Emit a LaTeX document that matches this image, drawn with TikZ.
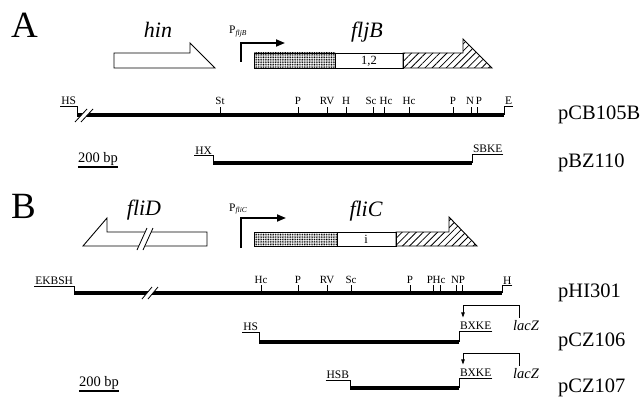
\documentclass[tikz,border=0pt]{standalone}
\usepackage{fontspec}
\setmainfont{Liberation Serif}
\usetikzlibrary{arrows.meta, patterns.meta, positioning}

\begin{document}
\begin{tikzpicture}[x=1pt, y=-1pt,
    dna/.style={line width=3.2pt},
    thinln/.style={line width=0.8pt},
    gene/.style={draw, line width=0.9pt},
    stipple/.style={gene, pattern={Dots[distance=1.7pt, radius=0.62pt]}},
    hatch/.style={gene, pattern={Lines[angle=45, distance=5pt, line width=0.8pt]}},
    site/.style={font=\fontsize{11}{11}\selectfont, inner sep=0pt, anchor=base},
    endlab/.style={font=\fontsize{11.5}{11}\selectfont, inner sep=0.8pt},
    plasmid/.style={font=\fontsize{20.5}{20}\selectfont, anchor=west, inner sep=0pt},
    genelab/.style={font=\fontsize{22}{22}\selectfont\itshape, inner sep=0pt, anchor=base},
    panel/.style={font=\fontsize{37}{37}\selectfont, inner sep=0pt, anchor=base west},
    promlab/.style={font=\fontsize{11.5}{11}\selectfont, inner sep=0pt, anchor=base west},
    prom/.style={line width=1.7pt, -{Triangle[length=9pt, width=7pt]}},
    arr/.style={line width=0.7pt, -{Triangle[length=5pt, width=3.5pt]}},
    scalelab/.style={font=\fontsize{14.5}{14}\selectfont, inner sep=0pt, anchor=base},
    bar/.style={line width=1.9pt}
  ]
  \useasboundingbox (0,0) rectangle (644,401);

  % ---------------- A ----------------
  \node[panel] (pa) at (11,38) {A};

  % Gene hin and fljB
  \node[genelab] (hin) at (158,38) {hin};
  \draw[gene] (114,53) -- (190,53) -- (190,43) -- (215,68) -- (114,68) -- cycle;
  \node[promlab] (pfljB) at (229,34) {P\raisebox{-0.35ex}{\fontsize{7.5}{7}\selectfont\itshape fljB}};
  \draw[prom] (241,62) -- (241,43) -- (285,43);
  \draw[stipple] (254,53) rectangle (335,68);
  \draw[gene] (335,53) rectangle (403,68);
  \node[font=\fontsize{12.5}{12}\selectfont, inner sep=0pt] (h12) at (369,61) {1,2};
  \draw[hatch] (403,53) -- (463,53) -- (463,39) -- (492,68) -- (403,68) -- cycle;
  \node[genelab] (fljB) at (367,38) {fljB};

  % pCB105B
  \coordinate (cbL) at (77,115);
  \coordinate (cbR) at (504,115);
  \draw[dna] (cbL) -- (cbR);
  \fill[white] (75,122) -- (87,109) -- (93,109) -- (81,122) -- cycle;
  \draw[thinln] (75,122) -- (87,109) (81,122) -- (93,109);
  \node[endlab, anchor=south east] (cbHS) at (77,106) {HS};
  \draw[thinln] (cbHS.south west) -- (cbHS.south east) -- (cbL);
  \node[endlab, anchor=south west] (cbE) at (504,106) {E};
  \draw[thinln] (cbE.south east) -- (cbE.south west) -- (cbR);
  \foreach \x/\lx/\s [count=\i] in {220/220/St, 298/298/P, 327/327/RV, 346/346/H, 373/371/Sc,
                                    384/386/Hc, 409/409/Hc, 453/453/P, 471/470/N, 477/479/P} {
    \node[site] (cb\i) at (\lx,105) {\s};
    \draw[thinln] (\x,107) -- (\x,115);
  }
  \node[plasmid] (cb) at (558,115) {pCB105B};

  % pBZ110
  \coordinate (bzL) at (213,163);
  \coordinate (bzR) at (472,163);
  \draw[dna] (bzL) -- (bzR);
  \node[endlab, anchor=south east] (bzHX) at (213,155) {HX};
  \draw[thinln] (bzHX.south west) -- (bzHX.south east) -- (bzL);
  \node[endlab, anchor=south west] (bzS) at (472,154) {SBKE};
  \draw[thinln] (bzS.south east) -- (bzS.south west) -- (bzR);
  \node[plasmid] (bz) at (558,163) {pBZ110};

  % scale A
  \node[scalelab] (sbA) at (98,162) {200 bp};
  \draw[bar] ([yshift=-5pt]sbA.base west) -- ([yshift=-5pt]sbA.base east);

  % ---------------- B ----------------
  \node[panel] (pb) at (11,218) {B};

  % Gene fliD and fliC
  \node[genelab] (fliD) at (144,215) {fliD};
  \draw[gene] (207,232) -- (107,232) -- (107,218) -- (83,246) -- (207,246) -- cycle;
  \fill[white] (137,250) -- (147,228) -- (153,228) -- (143,250) -- cycle;
  \draw[thinln] (137,250) -- (147,228) (143,250) -- (153,228);
  \node[promlab] (pfliC) at (229,211) {P\raisebox{-0.35ex}{\fontsize{7.5}{7}\selectfont\itshape fliC}};
  \draw[prom] (241,248) -- (241,218) -- (286,218);
  \draw[stipple] (254,232) rectangle (337,246);
  \draw[gene] (337,232) rectangle (396,246);
  \node[font=\fontsize{12.5}{12}\selectfont, inner sep=0pt] (hi) at (366,239) {i};
  \draw[hatch] (396,232) -- (449,232) -- (449,217) -- (477,246) -- (396,246) -- cycle;
  \node[genelab] (fliC) at (366,216) {fliC};

  % pHI301
  \coordinate (hiL) at (74,293);
  \coordinate (hiR) at (502,293);
  \draw[dna] (hiL) -- (hiR);
  \fill[white] (142,299) -- (152,287) -- (158,287) -- (148,299) -- cycle;
  \draw[thinln] (142,299) -- (152,287) (148,299) -- (158,287);
  \node[endlab, anchor=south east] (hiE) at (74,286) {EKBSH};
  \draw[thinln] (hiE.south west) -- (hiE.south east) -- (hiL);
  \node[endlab, anchor=south west] (hiH) at (502,285) {H};
  \draw[thinln] (hiH.south east) -- (hiH.south west) -- (hiR);
  \foreach \x/\lx/\s [count=\i] in {261/261/Hc, 298/298/P, 327/327/RV, 351/351/Sc,
                                    410/410/P, 433/430/P, 440/439/Hc, 456/455/N, 462/462/P} {
    \node[site] (hs\i) at (\lx,283) {\s};
    \draw[thinln] (\x,285) -- (\x,293);
  }
  \node[plasmid] (hip) at (558,293) {pHI301};

  % pCZ106
  \coordinate (c6L) at (259,342);
  \coordinate (c6R) at (459,342);
  \draw[dna] (c6L) -- (c6R);
  \node[endlab, anchor=south east] (c6HS) at (259,332) {HS};
  \draw[thinln] (c6HS.south west) -- (c6HS.south east) -- (c6L);
  \node[endlab, anchor=south west] (c6B) at (459,331) {BXKE};
  \draw[thinln] (c6B.south east) -- (c6B.south west) -- (c6R);
  \node[font=\fontsize{14.5}{14}\selectfont\itshape, inner sep=0pt, anchor=base] (lac6) at (526,330) {lacZ};
  \draw[arr] ([xshift=-7pt, yshift=2pt]lac6.north) -- ++(0,-12) -| ([xshift=4pt, yshift=4pt]c6B.north west);
  \node[plasmid] (c6) at (558,342) {pCZ106};

  % pCZ107
  \coordinate (c7L) at (350,388);
  \coordinate (c7R) at (459,388);
  \draw[dna] (c7L) -- (c7R);
  \node[endlab, anchor=south east] (c7HS) at (350,380) {HSB};
  \draw[thinln] (c7HS.south west) -- (c7HS.south east) -- (c7L);
  \node[endlab, anchor=south west] (c7B) at (459,378) {BXKE};
  \draw[thinln] (c7B.south east) -- (c7B.south west) -- (c7R);
  \node[font=\fontsize{14.5}{14}\selectfont\itshape, inner sep=0pt, anchor=base] (lac7) at (526,378) {lacZ};
  \draw[arr] ([xshift=-7pt, yshift=2pt]lac7.north) -- ++(0,-12) -| ([xshift=4pt, yshift=4pt]c7B.north west);
  \node[plasmid] (c7) at (558,388) {pCZ107};

  % scale B
  \node[scalelab] (sbB) at (99,386) {200 bp};
  \draw[bar] ([yshift=-5pt]sbB.base west) -- ([yshift=-5pt]sbB.base east);
\end{tikzpicture}
\end{document}
